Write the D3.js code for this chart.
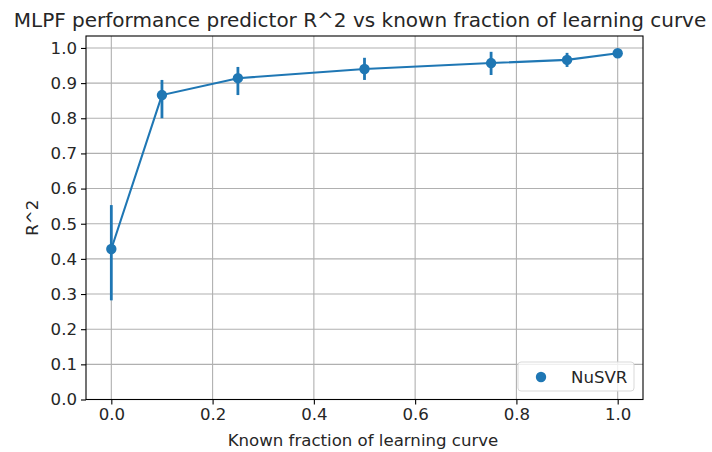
<!DOCTYPE html>
<html><head><meta charset="utf-8">
<script src="https://cdn.jsdelivr.net/npm/d3@7"></script>
<style>body{margin:0;background:#fff}text{font-family:"DejaVu Sans",sans-serif;fill:#262626}</style>
</head><body><svg id="c" width="712" height="452"></svg>
<script>
const fractions = [0, 0.1, 0.25, 0.5, 0.75, 0.9, 1.0];
const r2Mean = [0.428, 0.866, 0.914, 0.940, 0.957, 0.966, 0.985];
const r2Low = [0.282, 0.800, 0.866, 0.909, 0.923, 0.946, 0.976];
const r2High = [0.553, 0.909, 0.946, 0.972, 0.989, 0.986, 0.992];
const xTicks = [0, 0.2, 0.4, 0.6, 0.8, 1.0];
const yTicks = [0,0.1,0.2,0.3,0.4,0.5,0.6,0.7,0.8,0.9,1.0];
const seriesName = "NuSVR";
const color = "#1f77b4";

const svg = d3.select("#c");
const L=86, R=643, T=36, B=399.5;
const x = d3.scaleLinear().domain([-0.05,1.05]).range([L,R]);
const y = d3.scaleLinear().domain([0,1.034]).range([B,T]);
const fs = "16.6px";

const g = svg.append("g");
g.selectAll(".gx").data(xTicks).enter().append("line")
 .attr("x1",d=>x(d)).attr("x2",d=>x(d)).attr("y1",T).attr("y2",B)
 .attr("stroke","#b0b0b0").attr("stroke-width",1.1);
g.selectAll(".gy").data(yTicks).enter().append("line")
 .attr("y1",d=>y(d)).attr("y2",d=>y(d)).attr("x1",L).attr("x2",R)
 .attr("stroke","#b0b0b0").attr("stroke-width",1.1);

const xa = svg.append("g").attr("transform",`translate(0,${B})`)
 .call(d3.axisBottom(x).tickValues(xTicks).tickFormat(d3.format(".1f")).tickSize(5).tickPadding(4));
const ya = svg.append("g").attr("transform",`translate(${L},0)`)
 .call(d3.axisLeft(y).tickValues(yTicks).tickFormat(d3.format(".1f")).tickSize(5).tickPadding(4));
[xa,ya].forEach(a=>{a.select(".domain").remove();
 a.selectAll("line").attr("stroke","#000").attr("stroke-width",1.1);
 a.selectAll("text").attr("font-size",fs).attr("font-family","DejaVu Sans").attr("fill","#262626");});
svg.append("rect").attr("x",L).attr("y",T).attr("width",R-L).attr("height",B-T)
 .attr("fill","none").attr("stroke","#000").attr("stroke-width",1.1);

const data = fractions.map((f,i)=>({f,m:r2Mean[i],lo:r2Low[i],hi:r2High[i]}));
const plot = svg.append("g");
plot.selectAll(".eb").data(data).enter().append("line")
 .attr("x1",d=>x(d.f)).attr("x2",d=>x(d.f)).attr("y1",d=>y(d.lo)).attr("y2",d=>y(d.hi))
 .attr("stroke",color).attr("stroke-width",2.8);
plot.append("path").datum(data)
 .attr("d",d3.line().x(d=>x(d.f)).y(d=>y(d.m)))
 .attr("fill","none").attr("stroke",color).attr("stroke-width",2.1);
plot.selectAll(".pt").data(data).enter().append("circle")
 .attr("cx",d=>x(d.f)).attr("cy",d=>y(d.m)).attr("r",5.2).attr("fill",color);

svg.append("text").attr("x",360).attr("y",27).attr("text-anchor","middle")
 .attr("font-size","20px").text("MLPF performance predictor R^2 vs known fraction of learning curve");
svg.append("text").attr("x",363).attr("y",446).attr("text-anchor","middle")
 .attr("font-size",fs).text("Known fraction of learning curve");
svg.append("text").attr("transform",`translate(38,${(T+B)/2}) rotate(-90)`).attr("text-anchor","middle")
 .attr("font-size",fs).text("R^2");

const lg = svg.append("g");
lg.append("rect").attr("x",518).attr("y",362).attr("width",116).attr("height",29).attr("rx",3)
 .attr("fill","#fff").attr("fill-opacity",0.8).attr("stroke","#d9d9d9").attr("stroke-width",1);
lg.append("circle").attr("cx",541).attr("cy",377).attr("r",5.2).attr("fill",color);
lg.append("text").attr("x",571).attr("y",383).attr("font-size",fs).text(seriesName);
</script></body></html>
